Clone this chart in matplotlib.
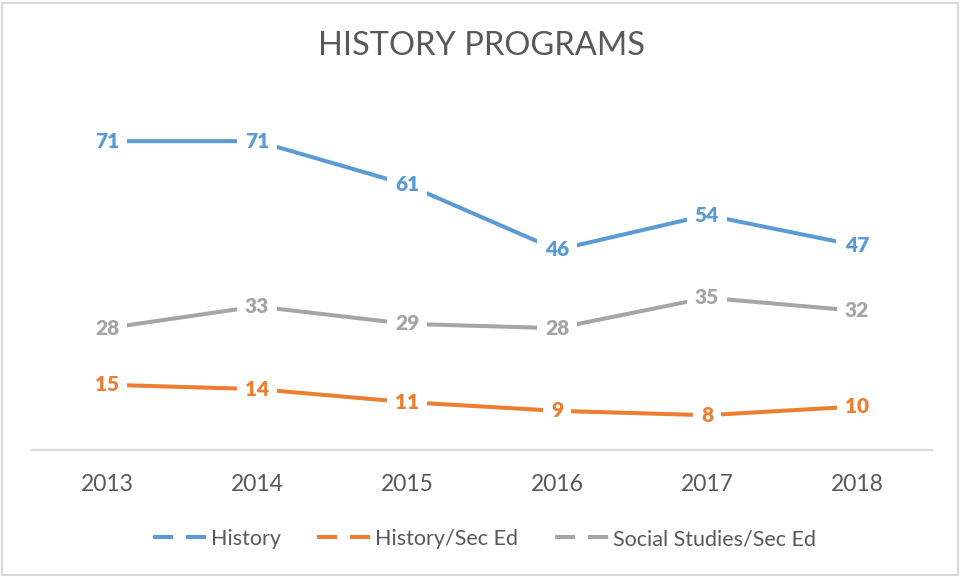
import matplotlib.pyplot as plt
from matplotlib.lines import Line2D
from matplotlib.patches import Rectangle

# Data
years = ["2013", "2014", "2015", "2016", "2017", "2018"]
history = [71, 71, 61, 46, 54, 47]
history_sec_ed = [15, 14, 11, 9, 8, 10]
social_studies_sec_ed = [28, 33, 29, 28, 35, 32]

series_names = ["History", "History/Sec Ed", "Social Studies/Sec Ed"]
series_colors = ["#5B9BD5", "#ED7D31", "#A5A5A5"]

plt.rcParams["font.family"] = ["Lato", "DejaVu Sans"]

fig = plt.figure(figsize=(9.61, 5.77), dpi=100)
ax = fig.add_axes([32 / 961, 127 / 577, 900 / 961, 348 / 577])

x = list(range(len(years)))
lw = 2.9
for vals, name, col in zip([history, history_sec_ed, social_studies_sec_ed],
                           series_names, series_colors):
    ax.plot(x, vals, color=col, lw=lw, solid_capstyle="butt", zorder=2)
    # data labels centred on the points, white box hides the line
    for xi, v in zip(x, vals):
        ax.text(xi, v, str(v), ha="center", va="center", fontsize=15,
                fontweight="heavy", color=col, zorder=3,
                bbox=dict(boxstyle="square,pad=0.4", fc="white", ec="none"))

ax.set_xlim(-0.5, len(years) - 0.5)
ax.set_ylim(0, 80)
ax.set_xticks(x)
ax.set_xticklabels(years, fontsize=16.5, color="#595959")
ax.tick_params(axis="x", length=0, pad=17)
ax.set_yticks([])
for side in ["top", "right", "left"]:
    ax.spines[side].set_visible(False)
ax.spines["bottom"].set_color("#D9D9D9")
ax.spines["bottom"].set_linewidth(1.5)

fig.text(0.501, 1 - 46 / 577, "HISTORY PROGRAMS", ha="center", va="center",
         fontsize=23.5, color="#595959")

# legend with dashed handles
handles = [Line2D([0], [0], color=c, lw=lw, linestyle=(0, (5.0, 3.2)))
           for c in series_colors]
fig.legend(handles, series_names, loc="center", ncol=3,
           bbox_to_anchor=(0.504, 38 / 577), frameon=False,
           fontsize=15.5, labelcolor="#595959", handlelength=2.5,
           handletextpad=0.2, columnspacing=1.7)

# light chart border
fig.patches.append(Rectangle((2 / 961, 2 / 577), 956 / 961, 572 / 577,
                             transform=fig.transFigure, fill=False,
                             ec="#D9D9D9", lw=1.5))

fig.savefig("out.png", dpi=100)
